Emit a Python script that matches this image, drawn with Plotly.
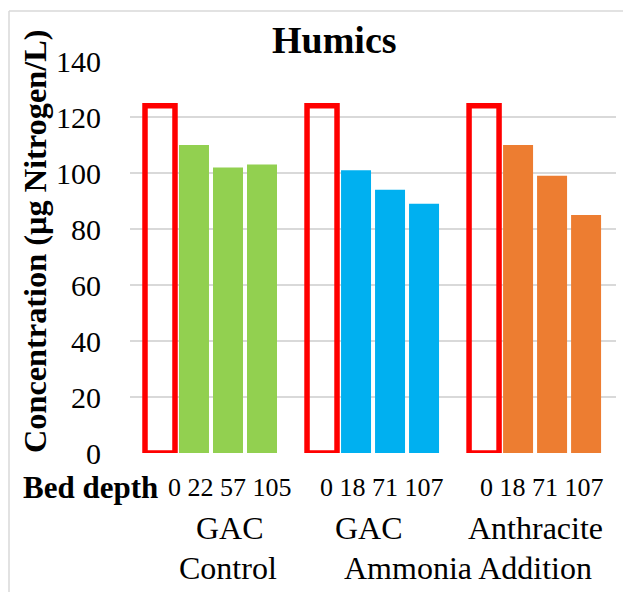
import plotly.graph_objects as go

# Humic concentrations (µg Nitrogen/L) by filter bed depth
groups = ["GAC Control", "GAC Ammonia Addition", "Anthracite Ammonia Addition"]
depth_labels = [["0", "22", "57", "105"], ["0", "18", "71", "107"], ["0", "18", "71", "107"]]
media_labels = ["GAC", "GAC", "Anthracite"]
treatment_labels = ["Control", "Ammonia Addition"]
gac_control = [None, 110, 102, 103]
gac_ammonia = [None, 101, 94, 89]
anthracite_ammonia = [None, 110, 99, 85]
# height of the outline marking the missing 0 cm sample
missing_box_height = 124

series = [gac_control, gac_ammonia, anthracite_ammonia]
colors = ["#92d050", "#00b0f0", "#ed7d31"]

FONT = "Liberation Serif, Times New Roman, serif"
W, H = 623, 592
L, R, T, B = 130, 7, 61, 139
PW, PH = W - L - R, H - T - B

GROUP_PITCH = 4.765
BAR_W = 0.882


def px_x(px):
    return (px - L) / PW


def px_y(py):
    return (H - B - py) / PH


fig = go.Figure()

for gi, (vals, col) in enumerate(zip(series, colors)):
    xs = [gi * GROUP_PITCH + k for k in range(len(vals))]
    fig.add_trace(go.Bar(
        x=xs[1:], y=vals[1:], width=BAR_W,
        marker=dict(color=col, line=dict(width=0)),
        showlegend=False, hoverinfo="y",
    ))
    # red outline where the 0 cm sample is missing
    fig.add_trace(go.Bar(
        x=[xs[0]], y=[missing_box_height], width=BAR_W,
        marker=dict(color="rgba(0,0,0,0)", line=dict(color="#ff0000", width=5.5)),
        cliponaxis=False, showlegend=False, hoverinfo="skip",
    ))

annotations = []
# chart title
annotations.append(dict(text="<b>Humics</b>", x=px_x(334), y=px_y(40), xref="paper", yref="paper",
                        showarrow=False, font=dict(family=FONT, size=38, color="black"),
                        xanchor="center", yanchor="middle"))
# y-axis title
annotations.append(dict(text="<b>Concentration (µg Nitrogen/L)</b>", x=px_x(35), y=px_y(242),
                        xref="paper", yref="paper", textangle=-90, showarrow=False,
                        font=dict(family=FONT, size=32.3, color="black"),
                        xanchor="center", yanchor="middle"))
# category axis labels
annotations.append(dict(text="<b>Bed depth</b>", x=px_x(90), y=px_y(488), xref="paper", yref="paper",
                        showarrow=False, font=dict(family=FONT, size=31, color="black"),
                        xanchor="center", yanchor="middle"))
depth_centers = [229.5, 382, 542]
for labels, cx in zip(depth_labels, depth_centers):
    annotations.append(dict(text=" ".join(labels), x=px_x(cx), y=px_y(488), xref="paper", yref="paper",
                            showarrow=False, font=dict(family=FONT, size=26, color="black"),
                            xanchor="center", yanchor="middle"))
for lab, cx in zip(media_labels, [230, 369, 535]):
    annotations.append(dict(text=lab, x=px_x(cx), y=px_y(528), xref="paper", yref="paper",
                            showarrow=False, font=dict(family=FONT, size=32, color="black"),
                            xanchor="center", yanchor="middle"))
for lab, cx in zip(treatment_labels, [228, 467.5]):
    annotations.append(dict(text=lab, x=px_x(cx), y=px_y(568), xref="paper", yref="paper",
                            showarrow=False, font=dict(family=FONT, size=32, color="black"),
                            xanchor="center", yanchor="middle"))

# chart-area border (left and top edges)
shapes = [
    dict(type="line", xref="paper", yref="paper", x0=px_x(9), x1=px_x(9), y0=px_y(11), y1=px_y(640),
         line=dict(color="#d9d9d9", width=1.5)),
    dict(type="line", xref="paper", yref="paper", x0=px_x(9), x1=px_x(660), y0=px_y(11), y1=px_y(11),
         line=dict(color="#d9d9d9", width=1.5)),
]

fig.update_layout(
    width=W, height=H,
    margin=dict(l=L, r=R, t=T, b=B),
    paper_bgcolor="white", plot_bgcolor="white",
    barmode="overlay",
    font=dict(family=FONT, color="black"),
    xaxis=dict(range=[-0.882, 13.41], showticklabels=False, showgrid=False,
               zeroline=False, showline=False, ticks=""),
    yaxis=dict(range=[0, 140], dtick=20, tick0=0, showgrid=True, gridcolor="#d9d9d9", gridwidth=1.5,
               zeroline=False, showline=False, ticks="",
               tickfont=dict(family=FONT, size=30, color="black"), ticklabelstandoff=28),
    annotations=annotations,
    shapes=shapes,
)

fig.write_html("out.html")
